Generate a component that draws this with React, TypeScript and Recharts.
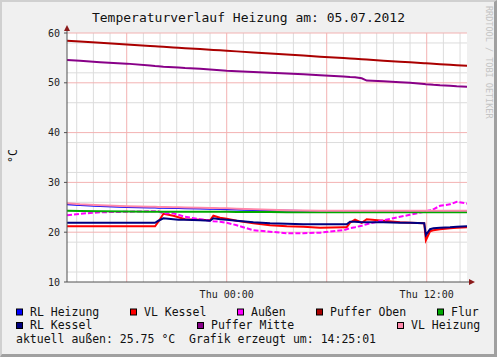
import React from 'react';
import { LineChart, Line, XAxis, YAxis, CartesianGrid } from 'recharts';

// hours relative to Thu 00:00
const hours = [-9.58, -8.8, -7.6, -6, -4.6, -4.3, -4.1, -3.8, -3.2, -2.9, -2.5, -1.6, -1.0, -0.8, -0.4, 0, 0.6, 1.6, 2.6, 3.6, 4.6, 5.6, 7.0, 7.2, 7.4, 7.7, 8.1, 8.4, 9.4, 10.4, 11.0, 11.85, 11.95, 12.2, 12.4, 12.8, 13.4, 13.8, 14.42];

const rlHeizung = [25.6, 25.45, 25.25, 25.05, 24.95, 24.95, 24.9, 24.9, 24.85, 24.85, 24.8, 24.75, 24.7, 24.7, 24.65, 24.6, 24.55, 24.45, 24.35, 24.3, 24.25, 24.2, 24.2, 24.2, 24.2, 24.2, 24.2, 24.2, 24.2, 24.2, 24.2, 24.2, 24.2, 24.2, 24.2, 24.2, 24.2, 24.2, 24.2];
const vlKessel = [21.2, 21.2, 21.2, 21.2, 21.2, 21.2, 22.1, 23.7, 23.3, 23.0, 22.6, 22.5, 22.4, 23.3, 22.9, 22.7, 22.3, 21.8, 21.4, 21.2, 21.1, 20.9, 21.0, 21.0, 21.9, 22.5, 21.9, 22.6, 22.3, 22.0, 21.9, 21.8, 18.4, 20.2, 20.4, 20.6, 20.8, 20.9, 21.0];
const aussen = [23.4, 23.7, 24.0, 24.1, 24.2, 24.2, 24.2, 23.8, 23.8, 23.5, 23.1, 22.6, 22.3, 22.2, 22.1, 21.9, 21.4, 20.4, 20.1, 19.8, 19.8, 19.9, 20.4, 20.6, 20.8, 21.0, 21.3, 21.6, 22.4, 23.1, 23.5, 24.1, 24.2, 24.4, 24.6, 25.3, 25.6, 26.1, 25.75];
const pufferOben = [58.45, 58.29, 58.03, 57.70, 57.40, 57.34, 57.30, 57.23, 57.11, 57.04, 56.96, 56.77, 56.64, 56.60, 56.52, 56.43, 56.31, 56.10, 55.89, 55.68, 55.46, 55.25, 54.96, 54.92, 54.87, 54.81, 54.73, 54.66, 54.45, 54.24, 54.11, 53.93, 53.91, 53.86, 53.82, 53.73, 53.61, 53.52, 53.40];
const flur = [24.3, 24.25, 24.2, 24.15, 24.1, 24.1, 24.1, 24.1, 24.1, 24.1, 24.1, 24.1, 24.1, 24.1, 24.1, 24.1, 24.05, 24.05, 24.05, 24.0, 24.0, 24.0, 24.0, 24.0, 24.0, 24.0, 24.0, 24.0, 24.0, 24.0, 24.0, 24.0, 24.0, 24.0, 24.0, 24.0, 24.0, 24.0, 24.0];
const rlKessel = [21.9, 21.9, 21.9, 21.9, 21.9, 21.9, 22.3, 22.8, 22.6, 22.5, 22.5, 22.4, 22.3, 22.8, 22.6, 22.5, 22.3, 22.0, 21.8, 21.7, 21.6, 21.6, 21.6, 21.6, 22.1, 22.1, 22.0, 22.0, 22.0, 21.9, 21.9, 21.8, 19.4, 20.6, 20.8, 20.9, 21.0, 21.1, 21.2];
const pufferMitte = [54.6, 54.45, 54.15, 53.85, 53.45, 53.35, 53.3, 53.2, 53.1, 53.05, 52.95, 52.8, 52.65, 52.6, 52.5, 52.4, 52.3, 52.15, 52.0, 51.85, 51.7, 51.5, 51.25, 51.2, 51.15, 51.1, 50.9, 50.45, 50.3, 50.1, 50.0, 49.75, 49.72, 49.68, 49.6, 49.5, 49.4, 49.3, 49.2];
const vlHeizung = [25.8, 25.6, 25.4, 25.2, 25.1, 25.1, 25.05, 25.05, 25.0, 25.0, 24.95, 24.9, 24.85, 24.85, 24.8, 24.8, 24.7, 24.6, 24.5, 24.4, 24.35, 24.3, 24.3, 24.3, 24.3, 24.3, 24.3, 24.3, 24.3, 24.3, 24.3, 24.3, 24.3, 24.3, 24.3, 24.3, 24.3, 24.3, 24.3];

const xTicks = [0, 12];
const xTickLabels = ['Thu 00:00', 'Thu 12:00'];
const yTicks = [10, 20, 30, 40, 50, 60];
const minorY = [12, 14, 16, 18, 22, 24, 26, 28, 32, 34, 36, 38, 42, 44, 46, 48, 52, 54, 56, 58];
const minorHours = [-9, -8, -7, -5, -4, -3, -2, -1, 1, 2, 3, 4, 5, 7, 8, 9, 10, 11, 13, 14];
const majorHours = [-6, 0, 6, 12];

const series = [
  { key: 'rlHeizung', name: 'RL Heizung', color: '#0000ff', values: rlHeizung },
  { key: 'vlKessel', name: 'VL Kessel', color: '#ff0000', values: vlKessel },
  { key: 'aussen', name: 'Außen', color: '#ff00ff', values: aussen, dash: '5 2' },
  { key: 'pufferOben', name: 'Puffer Oben', color: '#aa0000', values: pufferOben },
  { key: 'flur', name: 'Flur', color: '#00aa00', values: flur },
  { key: 'rlKessel', name: 'RL Kessel', color: '#000080', values: rlKessel },
  { key: 'pufferMitte', name: 'Puffer Mitte', color: '#880088', values: pufferMitte },
  { key: 'vlHeizung', name: 'VL Heizung', color: '#ff88aa', values: vlHeizung },
];

const data = hours.map((h, i) => {
  const row: Record<string, number> = { h };
  series.forEach(s => { row[s.key] = s.values[i]; });
  return row;
});

// legend placement (x of the colour box, row)
const legendPos: Record<string, [number, number]> = {
  rlHeizung: [16, 0], vlKessel: [130, 0], aussen: [237, 0], pufferOben: [316, 0], flur: [437, 0],
  rlKessel: [16, 1], pufferMitte: [197, 1], vlHeizung: [397, 1],
};

const mono = '"DejaVu Sans Mono", monospace';
const tickStyle = { fontFamily: mono, fontSize: 10, fill: '#222' };

export default function App() {
  return (
    <div style={{
      position: 'absolute', left: 0, top: 0, width: 497, height: 357, background: '#f0f0f0',
      boxSizing: 'border-box', borderTop: '2px solid #d0d0d0', borderLeft: '2px solid #d0d0d0',
      borderRight: '3px solid #a0a0a0', borderBottom: '3px solid #a0a0a0', fontFamily: mono,
    }}>
      <div style={{ position: 'absolute', left: -2, top: -2 }}>
        <LineChart width={497} height={357} data={data} margin={{ top: 33, right: 30, bottom: 0, left: 0 }}>
          <CartesianGrid fill="#fff" stroke="#dcdcdc" horizontalValues={minorY} verticalValues={minorHours} />
          <CartesianGrid stroke="#f3b2b2" horizontalValues={yTicks.slice(1)} verticalValues={majorHours} />
          <XAxis
            dataKey="h" type="number" domain={[-9.583, 14.417]} allowDataOverflow
            ticks={xTicks} tickFormatter={(v) => xTickLabels[xTicks.indexOf(v)]}
            height={75} tickSize={0} tickMargin={9} tick={tickStyle}
            axisLine={{ stroke: '#505050' }}
          />
          <YAxis
            type="number" domain={[10, 60]} ticks={yTicks} width={67}
            tickSize={3} tickMargin={4} tick={tickStyle}
            axisLine={{ stroke: '#505050' }} tickLine={{ stroke: '#505050' }}
          />
          {series.map(s => (
            <Line
              key={s.key} dataKey={s.key} name={s.name} type="linear" stroke={s.color}
              strokeWidth={2} strokeDasharray={s.dash} dot={false} activeDot={false}
              isAnimationActive={false}
            />
          ))}
        </LineChart>
        <svg width={497} height={357} style={{ position: 'absolute', left: 0, top: 0, pointerEvents: 'none' }}>
          <text x={248.5} y={21.5} textAnchor="middle" fontFamily={mono} fontSize={13} fill="#111">
            Temperaturverlauf Heizung am: 05.07.2012
          </text>
          <text transform="translate(17,156) rotate(-90)" textAnchor="middle" fontFamily={mono} fontSize={11.5} fill="#111">°C</text>
          <text transform="translate(486,6) rotate(90)" fontFamily={mono} fontSize={8.5} fill="#c4c4c4">
            RRDTOOL / TOBI OETIKER
          </text>
          {/* axis arrows */}
          <line x1={67} y1={33} x2={67} y2={29} stroke="#505050" />
          <polygon points="67,25 64,31 70,31" fill="#8b1a1a" />
          <line x1={467} y1={282} x2={471} y2={282} stroke="#505050" />
          <polygon points="475,282 469,279 469,285" fill="#8b1a1a" />
          {series.map(s => {
            const [x, row] = legendPos[s.key];
            const y = 315.5 + row * 13.5;
            return (
              <g key={s.key}>
                <rect x={x + 0.5} y={y - 6.5} width={6} height={6} fill={s.color} stroke="#000" strokeWidth={1} />
                <text x={x + 14} y={y} fontFamily={mono} fontSize={11.5} fill="#111">{s.name}</text>
              </g>
            );
          })}
          <text x={16} y={342.5} fontFamily={mono} fontSize={11.5} fill="#111" style={{ whiteSpace: 'pre' }}>
            {'aktuell außen: 25.75 °C  Grafik erzeugt um: 14:25:01'}
          </text>
        </svg>
      </div>
    </div>
  );
}
